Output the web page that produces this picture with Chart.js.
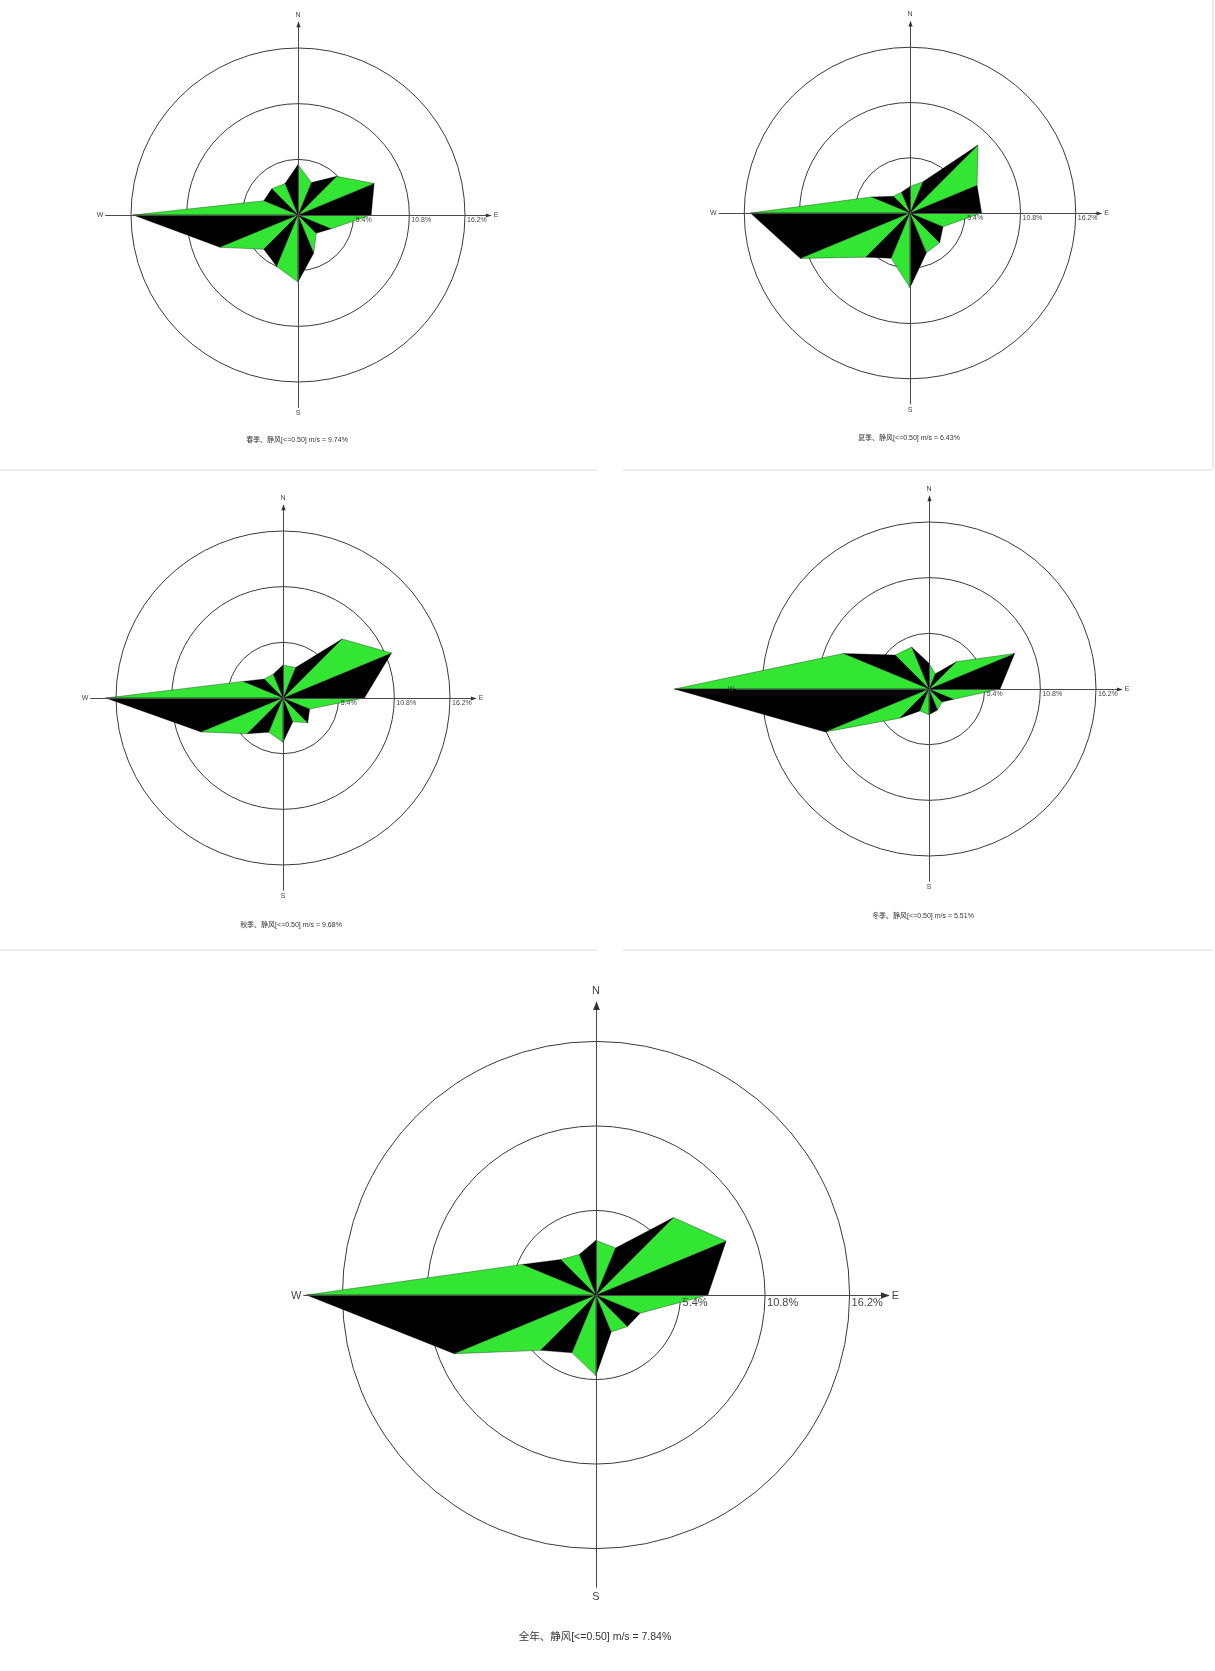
<!DOCTYPE html>
<html>
<head>
<meta charset="utf-8">
<title>风向玫瑰图</title>
<script src="https://cdn.jsdelivr.net/npm/chart.js@4.4.1/dist/chart.umd.min.js"></script>
<style>
  html, body { margin: 0; padding: 0; background: #fff; overflow: hidden; }
  #page { position: relative; width: 1215px; height: 1671px; overflow: hidden; background: #fff; }
  #page canvas { position: absolute; }
  .cap {
    position: absolute; transform: translate(-50%, -50%); white-space: nowrap;
    color: #333; font-family: "Liberation Sans", "Noto Sans CJK SC", sans-serif;
  }
  .rule { position: absolute; background: #ebebeb; }
</style>
</head>
<body>
<div id="page"></div>
<script>
// 16 compass sectors, clockwise from north
const directions = ['N', 'NNE', 'NE', 'ENE', 'E', 'ESE', 'SE', 'SSE', 'S', 'SSW', 'SW', 'WSW', 'W', 'WNW', 'NW', 'NNW'];
const seasonNames = ['春季', '夏季', '秋季', '冬季', '全年'];

// wind direction frequency (%) per sector
const springFreq = [4.9, 3.4, 5.3, 8.0, 7.1, 3.5, 2.5, 4.0, 6.5, 5.4, 4.7, 8.2, 16.0, 3.6, 3.6, 3.3];
const summerFreq = [2.6, 3.3, 9.4, 7.1, 7.0, 3.5, 4.1, 4.2, 7.3, 4.8, 6.1, 11.6, 15.6, 4.1, 2.3, 2.2];
const autumnFreq = [3.2, 3.2, 8.1, 11.4, 7.9, 2.8, 3.4, 2.5, 4.3, 3.6, 4.9, 8.6, 17.2, 4.2, 2.6, 2.5];
const winterFreq = [2.5, 1.6, 3.75, 9.0, 6.9, 2.6, 1.8, 2.2, 2.5, 2.3, 4.0, 10.9, 24.7, 9.0, 4.65, 4.4];
const annualFreq = [3.5, 3.25, 7.0, 9.0, 7.15, 3.05, 2.85, 2.55, 5.15, 4.0, 5.0, 9.8, 18.5, 5.1, 3.2, 2.8];

// calm frequency (%) per period
const calmFreq = [9.74, 6.43, 9.68, 5.51, 7.84];

// frequency rings and their labels
const ringTicks = [5.4, 10.8, 16.2];

const axisReach = 18.7;   // length of the compass axes, in %
const scaleMax = 26;      // radial scale extent, in %

const GREEN = '#33e633';
const BLACK = '#000000';

// where each rose sits on the page
const panels = [
  { name: seasonNames[0], values: springFreq, calm: calmFreq[0], cx: 298, cy: 215, radius: 268, font: 7, capX: 297, capY: 439 },
  { name: seasonNames[1], values: summerFreq, calm: calmFreq[1], cx: 910, cy: 213, radius: 266, font: 7, capX: 909, capY: 437 },
  { name: seasonNames[2], values: autumnFreq, calm: calmFreq[2], cx: 283, cy: 698, radius: 268, font: 7, capX: 291, capY: 924 },
  { name: seasonNames[3], values: winterFreq, calm: calmFreq[3], cx: 929, cy: 689, radius: 268, font: 7, capX: 923, capY: 915 },
  { name: seasonNames[4], values: annualFreq, calm: calmFreq[4], cx: 596, cy: 1295, radius: 407, font: 11, capX: 595, capY: 1635, capFont: 10.5 }
];

// compass axes, arrows, letters and ring labels
const roseFrame = {
  id: 'roseFrame',
  afterDraw(chart, args, opts) {
    const s = chart.scales.r;
    const ctx = chart.ctx;
    const cx = s.xCenter, cy = s.yCenter;
    const D = s.getDistanceFromCenterForValue(axisReach);
    const f = opts.font;
    ctx.save();
    ctx.strokeStyle = '#4a4a4a';
    ctx.lineWidth = 1;
    ctx.beginPath();
    ctx.moveTo(cx - D, cy + 0.5); ctx.lineTo(cx + D, cy + 0.5);
    ctx.moveTo(cx + 0.5, cy - D); ctx.lineTo(cx + 0.5, cy + D);
    ctx.stroke();

    const a = f * 0.7, w = f * 0.3;
    ctx.fillStyle = '#333';
    ctx.beginPath();
    ctx.moveTo(cx + 0.5, cy - D - 1); ctx.lineTo(cx + 0.5 - w, cy - D + a); ctx.lineTo(cx + 0.5 + w, cy - D + a);
    ctx.closePath(); ctx.fill();
    ctx.beginPath();
    ctx.moveTo(cx + D + 1, cy + 0.5); ctx.lineTo(cx + D - a, cy + 0.5 - w); ctx.lineTo(cx + D - a, cy + 0.5 + w);
    ctx.closePath(); ctx.fill();

    ctx.fillStyle = '#444';
    ctx.font = f + 'px "Liberation Sans", Arial, sans-serif';
    ctx.textAlign = 'center'; ctx.textBaseline = 'middle';
    ctx.fillText('N', cx, cy - D - f * 1.05);
    ctx.fillText('S', cx, cy + D + f * 0.8);
    ctx.textAlign = 'right';
    ctx.fillText('W', cx - D - 2, cy + 0.5);
    ctx.textAlign = 'left';
    ctx.fillText('E', cx + D + 3, cy + 0.5);

    ctx.textBaseline = 'top';
    ringTicks.forEach(v => {
      const d = s.getDistanceFromCenterForValue(v);
      ctx.fillText(v.toFixed(1) + '%', cx + d + 2, cy + f * 0.2);
    });
    ctx.restore();
  }
};

// one filled triangle per sector: centre, this direction's tip, the next one's tip
function sectorSets(values) {
  return values.map((v, i) => {
    const j = (i + 1) % values.length;
    return {
      label: directions[i] + '-' + directions[j],
      data: values.map((_, k) => (k === i ? values[i] : (k === j ? values[j] : 0))),
      fill: true,
      backgroundColor: i % 2 === 0 ? GREEN : BLACK,
      borderColor: 'rgba(0,0,0,0.55)',
      borderWidth: 0.6,
      pointRadius: 0,
      pointHoverRadius: 0,
      clip: false
    };
  });
}

const page = document.getElementById('page');

panels.forEach(p => {
  const canvas = document.createElement('canvas');
  canvas.width = p.radius * 2;
  canvas.height = p.radius * 2;
  canvas.style.left = (p.cx - p.radius) + 'px';
  canvas.style.top = (p.cy - p.radius) + 'px';
  page.appendChild(canvas);

  new Chart(canvas, {
    type: 'radar',
    data: { labels: directions, datasets: sectorSets(p.values) },
    options: {
      responsive: false,
      animation: false,
      devicePixelRatio: 1,
      events: [],
      layout: { padding: 0 },
      elements: { line: { tension: 0 } },
      plugins: {
        legend: { display: false },
        tooltip: { enabled: false },
        roseFrame: { font: p.font }
      },
      scales: {
        r: {
          min: 0,
          max: scaleMax,
          startAngle: 0,
          z: 1,
          grid: { circular: true, color: '#3a3a3a', lineWidth: 1 },
          angleLines: { display: false },
          pointLabels: { display: false },
          ticks: { display: false },
          afterBuildTicks(scale) {
            scale.ticks = [0].concat(ringTicks).map(v => ({ value: v }));
          }
        }
      }
    },
    plugins: [roseFrame]
  });

  const cap = document.createElement('div');
  cap.className = 'cap';
  cap.style.left = p.capX + 'px';
  cap.style.top = p.capY + 'px';
  cap.style.fontSize = (p.capFont || p.font) + 'px';
  cap.textContent = p.name + '、静风[<=0.50] m/s = ' + p.calm.toFixed(2) + '%';
  page.appendChild(cap);
});

// light panel dividers
[[0, 469, 597, 2], [623, 469, 590, 2], [0, 949, 597, 2], [623, 949, 590, 2], [1212, 0, 2, 469]].forEach(r => {
  const d = document.createElement('div');
  d.className = 'rule';
  d.style.left = r[0] + 'px'; d.style.top = r[1] + 'px';
  d.style.width = r[2] + 'px'; d.style.height = r[3] + 'px';
  page.insertBefore(d, page.firstChild);
});
</script>
</body>
</html>
